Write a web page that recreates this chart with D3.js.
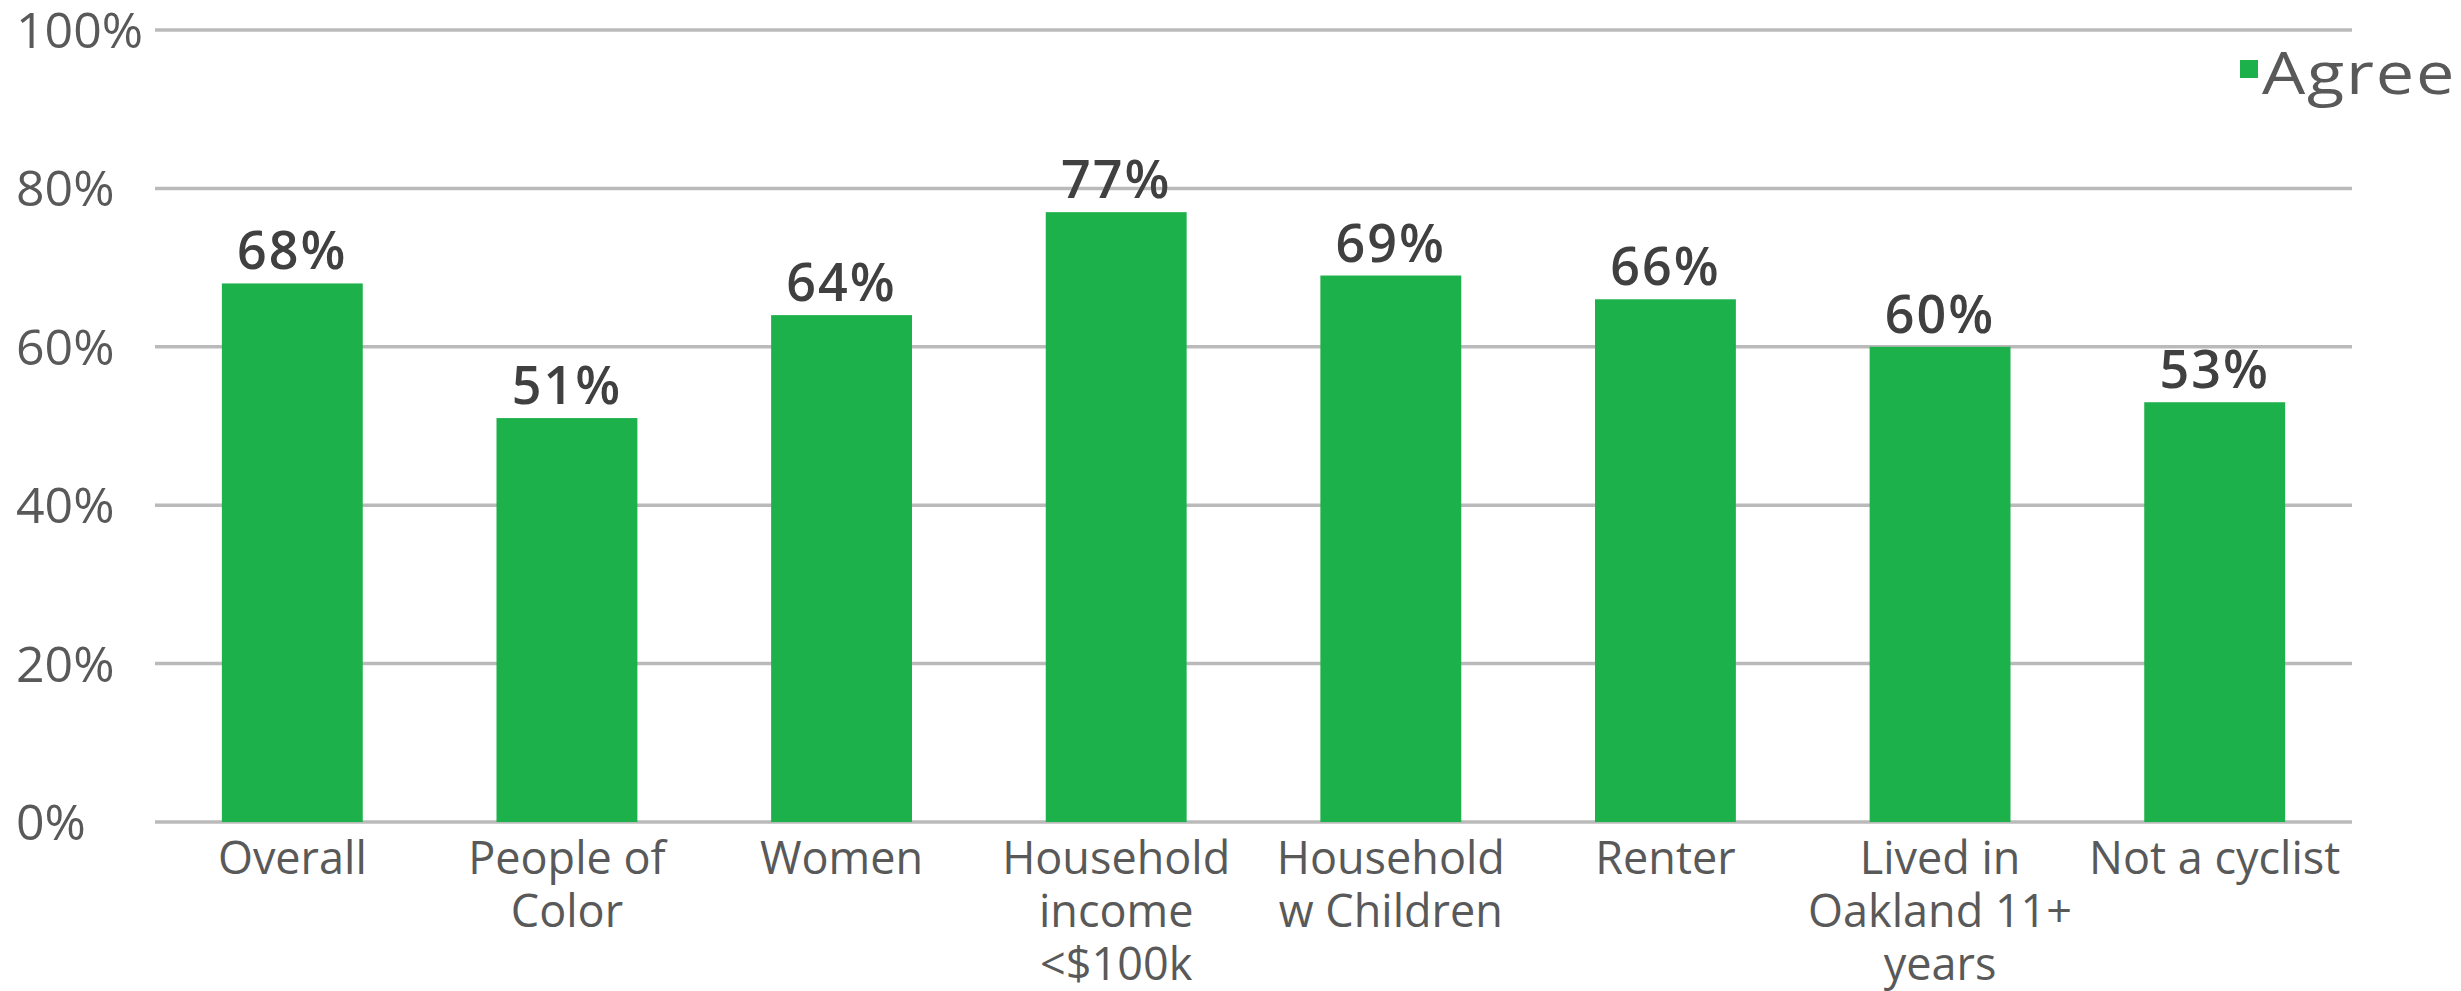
<!DOCTYPE html>
<html>
<head>
<meta charset="utf-8">
<script src="https://cdn.jsdelivr.net/npm/d3@7"></script>
<style>
    body { margin: 0; background: #fff; }
    svg { display: block; font-family: "Open Sans", sans-serif; }
</style>
</head>
<body>
<div id="chart"></div>
<script>
const WIDTH = 2461;
const HEIGHT = 991;
const MARGIN = {top: 30, right: 109, bottom: 169, left: 155};

// one entry per bar, label lines split the way the chart wraps them
const CATEGORIES = ['Overall', 'People of Color', 'Women', 'Household income <$100k',
    'Household w Children', 'Renter', 'Lived in Oakland 11+ years', 'Not a cyclist'];
const LABEL_LINES = [
    ['Overall'],
    ['People of', 'Color'],
    ['Women'],
    ['Household', 'income', '<$100k'],
    ['Household', 'w Children'],
    ['Renter'],
    ['Lived in', 'Oakland 11+', 'years'],
    ['Not a cyclist']
];
const AGREE = [0.68, 0.51, 0.64, 0.77, 0.69, 0.66, 0.60, 0.53];
const Y_TICKS = [0, 0.2, 0.4, 0.6, 0.8, 1.0];
const SERIES_NAME = 'Agree';

const GREEN = '#1db14b';
const GRID = '#bababa';

const svg = d3.select('#chart').append('svg')
    .attr('width', WIDTH)
    .attr('height', HEIGHT);

const x = d3.scaleBand()
    .domain(CATEGORIES)
    .range([MARGIN.left, WIDTH - MARGIN.right])
    .paddingInner(0.487)
    .paddingOuter(0.2435);

const y = d3.scaleLinear()
    .domain([0, 1])
    .range([HEIGHT - MARGIN.bottom, MARGIN.top]);

// gridlines
svg.append('g')
    .selectAll('line')
    .data(Y_TICKS)
    .join('line')
    .attr('x1', MARGIN.left)
    .attr('x2', WIDTH - MARGIN.right)
    .attr('y1', d => y(d))
    .attr('y2', d => y(d))
    .attr('stroke', GRID)
    .attr('stroke-width', 3.5);

// y labels, left aligned like the original
svg.append('g')
    .selectAll('text')
    .data(Y_TICKS)
    .join('text')
    .attr('x', 16)
    .attr('y', d => y(d))
    .attr('dy', '0.36em')
    .attr('font-size', 50)
    .attr('fill', '#595959')
    .text(d3.format('.0%'));

// bars
svg.append('g')
    .selectAll('rect')
    .data(AGREE)
    .join('rect')
    .attr('x', (d, i) => x(CATEGORIES[i]))
    .attr('y', d => y(d))
    .attr('width', x.bandwidth())
    .attr('height', d => y(0) - y(d))
    .attr('fill', GREEN);

// value labels
svg.append('g')
    .selectAll('text')
    .data(AGREE)
    .join('text')
    .attr('x', (d, i) => x(CATEGORIES[i]) + x.bandwidth() / 2)
    .attr('y', d => y(d) - 14)
    .attr('text-anchor', 'middle')
    .attr('font-size', 52)
    .attr('font-weight', 600)
    .attr('letter-spacing', 2)
    .attr('fill', '#404040')
    .text(d3.format('.0%'));

// category labels
const xl = svg.append('g')
    .selectAll('text')
    .data(CATEGORIES)
    .join('text')
    .attr('x', d => x(d) + x.bandwidth() / 2)
    .attr('y', y(0) + 52)
    .attr('text-anchor', 'middle')
    .attr('font-size', 45)
    .attr('fill', '#595959');

xl.selectAll('tspan')
    .data((d, i) => LABEL_LINES[i])
    .join('tspan')
    .attr('x', function() { return this.parentNode.getAttribute('x'); })
    .attr('dy', (d, i) => i == 0 ? 0 : 53)
    .text(d => d);

// legend (the original font is wider, so the text is stretched a little)
const legend = svg.append('g')
    .attr('transform', `translate(2240, ${MARGIN.top + 64})`);
legend.append('rect')
    .attr('x', 0)
    .attr('y', -34)
    .attr('width', 18)
    .attr('height', 18)
    .attr('fill', GREEN);
legend.append('text')
    .attr('transform', 'translate(22, 0) scale(1.18, 1)')
    .attr('font-size', 58)
    .attr('letter-spacing', 1.5)
    .attr('fill', '#595959')
    .text(SERIES_NAME);
</script>
</body>
</html>
